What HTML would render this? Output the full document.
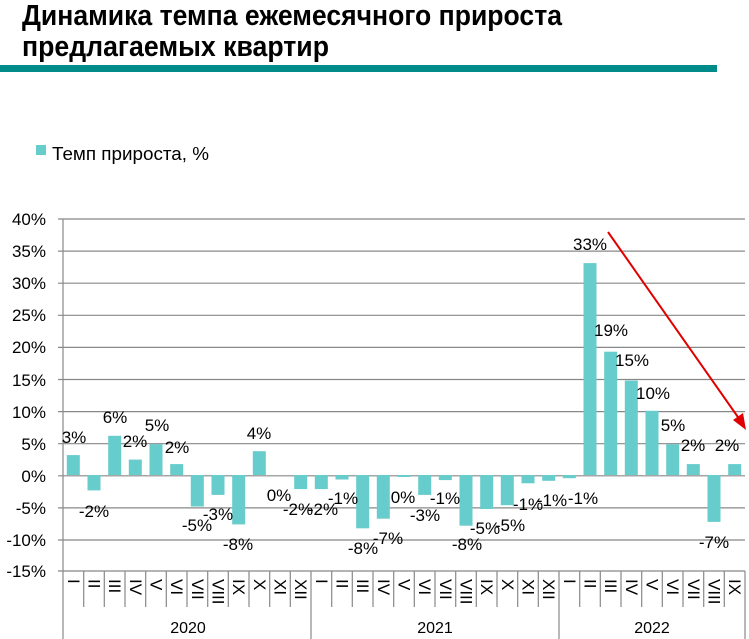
<!DOCTYPE html>
<html><head><meta charset="utf-8"><style>
html,body{margin:0;padding:0;background:#fff}
svg{display:block}
text{font-family:"Liberation Sans",sans-serif;fill:#000}
</style></head><body>
<svg width="749" height="639" viewBox="0 0 749 639" xmlns="http://www.w3.org/2000/svg">
<text x="22" y="25" font-size="29" font-weight="bold" textLength="540" lengthAdjust="spacingAndGlyphs">Динамика темпа ежемесячного прироста</text>
<text x="22" y="56" font-size="29" font-weight="bold" textLength="307" lengthAdjust="spacingAndGlyphs">предлагаемых квартир</text>
<rect x="0" y="65" width="717" height="7" fill="#008B8B"/>
<rect x="36" y="145" width="10" height="10" fill="#66CCCC"/>
<text x="52" y="160" font-size="18" textLength="157" lengthAdjust="spacingAndGlyphs">Темп прироста, %</text>
<g stroke="#888" stroke-width="1.2">
<line x1="58" y1="219" x2="745" y2="219"/><line x1="58" y1="251.1" x2="745" y2="251.1"/><line x1="58" y1="283.2" x2="745" y2="283.2"/><line x1="58" y1="315.3" x2="745" y2="315.3"/><line x1="58" y1="347.4" x2="745" y2="347.4"/><line x1="58" y1="379.5" x2="745" y2="379.5"/><line x1="58" y1="411.6" x2="745" y2="411.6"/><line x1="58" y1="443.7" x2="745" y2="443.7"/><line x1="58" y1="475.8" x2="745" y2="475.8"/><line x1="58" y1="507.9" x2="745" y2="507.9"/><line x1="58" y1="540" x2="745" y2="540"/><line x1="58" y1="571" x2="745" y2="571"/>
<line x1="63" y1="219" x2="63" y2="639"/><line x1="311" y1="571" x2="311" y2="639"/><line x1="559" y1="571" x2="559" y2="639"/><line x1="745" y1="571" x2="745" y2="639"/>
<path d="M83.7 571V607M104.3 571V607M125 571V607M145.7 571V607M166.3 571V607M187 571V607M207.7 571V607M228.3 571V607M249 571V607M269.7 571V607M290.3 571V607M331.7 571V607M352.3 571V607M373 571V607M393.7 571V607M414.3 571V607M435 571V607M455.7 571V607M476.3 571V607M497 571V607M517.7 571V607M538.3 571V607M579.7 571V607M600.3 571V607M621 571V607M641.7 571V607M662.3 571V607M683 571V607M703.7 571V607M724.3 571V607"/>
</g>
<g font-size="17" text-anchor="end">
<text x="46" y="225">40%</text><text x="46" y="257">35%</text><text x="46" y="289">30%</text><text x="46" y="321">25%</text><text x="46" y="353">20%</text><text x="46" y="386">15%</text><text x="46" y="418">10%</text><text x="46" y="450">5%</text><text x="46" y="482">0%</text><text x="46" y="514">-5%</text><text x="46" y="546">-10%</text><text x="46" y="577">-15%</text>
</g>
<g fill="#66CCCC">
<rect x="66.8" y="455.1" width="13" height="19.9"/>
<rect x="87.5" y="475" width="13" height="15.4"/>
<rect x="108.2" y="435.8" width="13" height="39.2"/>
<rect x="128.8" y="459.6" width="13" height="15.4"/>
<rect x="149.5" y="444.2" width="13" height="30.8"/>
<rect x="170.2" y="464.1" width="13" height="10.9"/>
<rect x="190.8" y="475" width="13" height="31.5"/>
<rect x="211.5" y="475" width="13" height="19.9"/>
<rect x="232.2" y="475" width="13" height="49.4"/>
<rect x="252.8" y="451.2" width="13" height="23.8"/>
<rect x="294.2" y="475" width="13" height="14.1"/>
<rect x="314.8" y="475" width="13" height="14.1"/>
<rect x="335.5" y="475" width="13" height="4.5"/>
<rect x="356.2" y="475" width="13" height="53.3"/>
<rect x="376.8" y="475" width="13" height="43.7"/>
<rect x="397.5" y="475" width="13" height="2"/>
<rect x="418.2" y="475" width="13" height="19.9"/>
<rect x="438.8" y="475" width="13" height="5.1"/>
<rect x="459.5" y="475" width="13" height="50.7"/>
<rect x="480.2" y="475" width="13" height="34"/>
<rect x="500.8" y="475" width="13" height="30.2"/>
<rect x="521.5" y="475" width="13" height="8.3"/>
<rect x="542.2" y="475" width="13" height="5.8"/>
<rect x="562.8" y="475" width="13" height="3.2"/>
<rect x="583.5" y="263.1" width="13" height="211.9"/>
<rect x="604.2" y="351.7" width="13" height="123.3"/>
<rect x="624.8" y="380.6" width="13" height="94.4"/>
<rect x="645.5" y="410.8" width="13" height="64.2"/>
<rect x="666.2" y="444.2" width="13" height="30.8"/>
<rect x="686.8" y="464.1" width="13" height="10.9"/>
<rect x="707.5" y="475" width="13" height="46.9"/>
<rect x="728.2" y="464.1" width="13" height="10.9"/>
</g>
<g font-size="17" text-anchor="middle">
<text x="74" y="443">3%</text><text x="94" y="517">-2%</text><text x="115" y="423">6%</text><text x="135" y="447">2%</text><text x="157" y="431">5%</text><text x="177" y="453">2%</text><text x="197" y="531">-5%</text><text x="218" y="520">-3%</text><text x="238" y="550">-8%</text><text x="259" y="439">4%</text><text x="279" y="501">0%</text><text x="298" y="515">-2%</text><text x="323" y="515">-2%</text><text x="343" y="504">-1%</text><text x="363" y="554">-8%</text><text x="388" y="544">-7%</text><text x="403" y="503">0%</text><text x="425" y="521">-3%</text><text x="445" y="504">-1%</text><text x="467" y="550">-8%</text><text x="485" y="534">-5%</text><text x="510" y="531">-5%</text><text x="528" y="510">-1%</text><text x="552" y="506">-1%</text><text x="583" y="504">-1%</text><text x="590" y="250">33%</text><text x="611" y="336">19%</text><text x="632" y="366">15%</text><text x="653" y="399">10%</text><text x="673" y="431">5%</text><text x="693" y="451">2%</text><text x="714" y="548">-7%</text><text x="727" y="451">2%</text>
</g>
<g font-size="17">
<text transform="translate(68,579) rotate(90)">I</text>
<text transform="translate(88.5,579) rotate(90)">II</text>
<text transform="translate(109.2,579) rotate(90)">III</text>
<text transform="translate(129.8,579) rotate(90)">IV</text>
<text transform="translate(150.5,579) rotate(90)">V</text>
<text transform="translate(171.2,579) rotate(90)">VI</text>
<text transform="translate(191.8,579) rotate(90)">VII</text>
<text transform="translate(212.5,579) rotate(90)">VIII</text>
<text transform="translate(233.2,579) rotate(90)">IX</text>
<text transform="translate(253.8,579) rotate(90)">X</text>
<text transform="translate(274.5,579) rotate(90)">XI</text>
<text transform="translate(295.2,579) rotate(90)">XII</text>
<text transform="translate(315.8,579) rotate(90)">I</text>
<text transform="translate(336.5,579) rotate(90)">II</text>
<text transform="translate(357.2,579) rotate(90)">III</text>
<text transform="translate(377.8,579) rotate(90)">IV</text>
<text transform="translate(398.5,579) rotate(90)">V</text>
<text transform="translate(419.2,579) rotate(90)">VI</text>
<text transform="translate(439.8,579) rotate(90)">VII</text>
<text transform="translate(460.5,579) rotate(90)">VIII</text>
<text transform="translate(481.2,579) rotate(90)">IX</text>
<text transform="translate(501.8,579) rotate(90)">X</text>
<text transform="translate(522.5,579) rotate(90)">XI</text>
<text transform="translate(543.2,579) rotate(90)">XII</text>
<text transform="translate(563.8,579) rotate(90)">I</text>
<text transform="translate(584.5,579) rotate(90)">II</text>
<text transform="translate(605.2,579) rotate(90)">III</text>
<text transform="translate(625.8,579) rotate(90)">IV</text>
<text transform="translate(646.5,579) rotate(90)">V</text>
<text transform="translate(667.2,579) rotate(90)">VI</text>
<text transform="translate(687.8,579) rotate(90)">VII</text>
<text transform="translate(708.5,579) rotate(90)">VIII</text>
<text transform="translate(729.2,579) rotate(90)">IX</text>
</g>
<g font-size="16" text-anchor="middle">
<text x="188" y="633">2020</text><text x="435" y="633">2021</text><text x="652" y="633">2022</text>
</g>
<line x1="608" y1="232" x2="740" y2="420" stroke="#E00000" stroke-width="2"/>
<polygon points="746,430 733,420 743,413" fill="#E00000"/>
</svg>
</body></html>
